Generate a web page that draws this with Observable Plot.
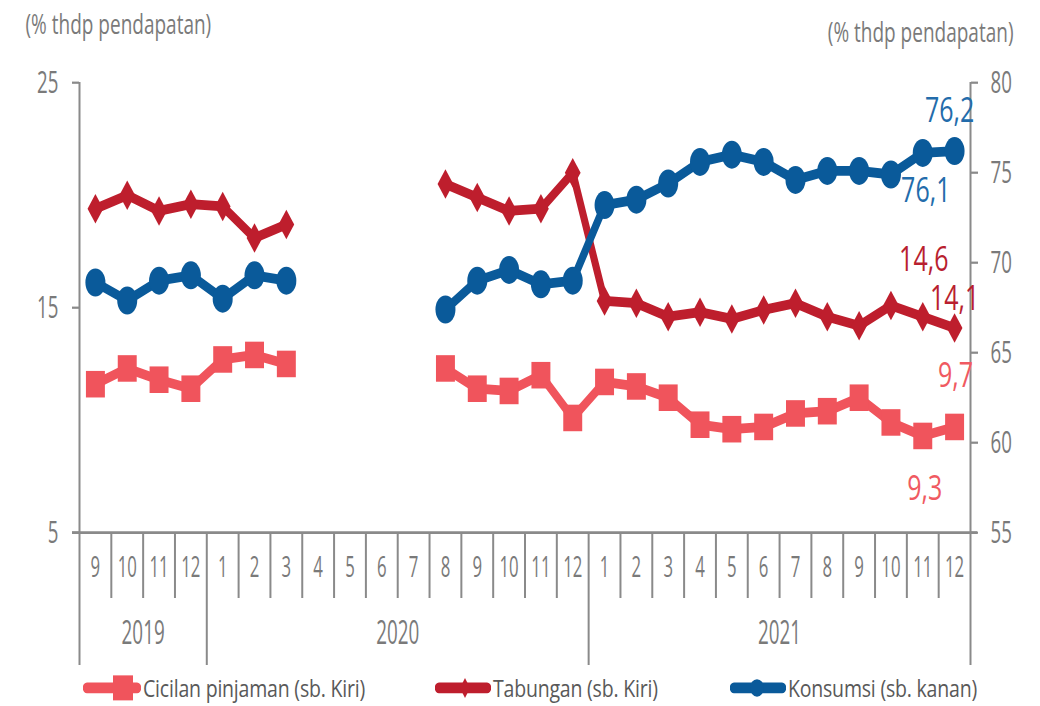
<!DOCTYPE html>
<html>
<head>
<meta charset="utf-8">
<script src="https://cdn.jsdelivr.net/npm/d3@7"></script>
<script src="https://cdn.jsdelivr.net/npm/@observablehq/plot@0.6"></script>
<style>
  body { margin: 0; background: #fff; }
  #wrap { position: relative; width: 1040px; height: 706px; overflow: hidden; background: #fff; font-family: "Open Sans", sans-serif; }
  #chart { position: absolute; left: 0; top: 0; }
  #legend { position: absolute; left: 0; top: 671px; width: 1040px; height: 27px; transform-origin: 0 0; transform: scaleY(1.25); }
  .item { position: absolute; top: 0; height: 27px; width: 300px; }
  .item svg { position: absolute; top: 0; left: 0; }
  .item span { position: absolute; top: 0; white-space: nowrap; font-size: 19.5px; line-height: 27px; letter-spacing: -0.2px; color: #595959; }
</style>
</head>
<body>
<div id="wrap"><div id="chart"></div><div id="legend"></div></div>
<script>
// ---------- data ----------
const months = ["9","10","11","12","1","2","3","4","5","6","7","8","9","10","11","12","1","2","3","4","5","6","7","8","9","10","11","12"];
const yearLabels = ["2019", "2020", "2021"];
const yearFirstIndex = [0, 4, 16];
const yearLastIndex = [3, 15, 27];

const cicilan  = [11.6, 12.3, 11.8, 11.4,  12.7, 12.9, 12.5, null, null, null, null, 12.3, 11.4, 11.3, 12.0, 10.1,  11.7, 11.5, 11.0, 9.8, 9.6, 9.7, 10.3, 10.4, 11.0, 9.9, 9.3, 9.7];
const tabungan = [19.4, 20.0, 19.3, 19.6,  19.5, 18.1, 18.7, null, null, null, null, 20.5, 19.9, 19.3, 19.4, 21.0,  15.3, 15.2, 14.6, 14.8, 14.5, 14.9, 15.2, 14.6, 14.2, 15.1, 14.6, 14.1];
const konsumsi = [68.9, 67.9, 69.0, 69.3,  68.0, 69.3, 69.0, null, null, null, null, 67.4, 69.0, 69.6, 68.8, 69.0,  73.2, 73.5, 74.4, 75.6, 76.0, 75.6, 74.6, 75.1, 75.1, 74.9, 76.1, 76.2];

const seriesNames = ["Cicilan pinjaman (sb. Kiri)", "Tabungan (sb. Kiri)", "Konsumsi (sb. kanan)"];
const leftTicks = [5, 15, 25];
const rightTicks = [55, 60, 65, 70, 75, 80];
const leftDomain = [5, 25];
const rightDomain = [55, 80];
const axisTitle = "(% thdp pendapatan)";
const labelIndex = [26, 27]; // last two points labelled for each series

// ---------- styling / layout ----------
const C_CIC = "#f0545c", C_TAB = "#be1e2d", C_KON = "#0a5a9a";
const L_CIC = "#f05a61", L_TAB = "#b91f2f", L_KON = "#236cab";
const AXIS = "#8a8a8a", TXT = "#7a7a7a";
const K = 1.4;             // vertical stretch of the reference picture
const u = px => px / K;
const W = 1040, SVG_H = 670;
const TOP = 82, BOTTOM = 532, LEFT = 79, RIGHT = 970;

const toLeft = v => v == null ? null :
  leftDomain[0] + (v - rightDomain[0]) * (leftDomain[1] - leftDomain[0]) / (rightDomain[1] - rightDomain[0]);
const fromLeft = v => rightDomain[0] + (v - leftDomain[0]) * (rightDomain[1] - rightDomain[0]) / (leftDomain[1] - leftDomain[0]);
const fmt = v => String(v).replace(".", ",");

const idx = months.map((_, i) => i);
const rows = (arr, f = d => d) => arr.map((v, i) => ({i, v: f(v), raw: v}));
const cicRows = rows(cicilan), tabRows = rows(tabungan), konRows = rows(konsumsi, toLeft);

const yearSeps = [-0.5, ...yearLastIndex.map(i => i + 0.5)];
const monthSeps = idx.slice(0, -1).map(i => i + 0.5).filter(x => !yearSeps.includes(x));
const yearCenters = yearLabels.map((t, k) => ({t, x: (yearFirstIndex[k] + yearLastIndex[k]) / 2}));

// custom diamond (taller than wide)
const diamond = {
  draw(ctx, size) {
    const r = Math.sqrt(size / Math.PI);
    const w = r * 0.75;
    ctx.moveTo(0, -r); ctx.lineTo(w, 0); ctx.lineTo(0, r); ctx.lineTo(-w, 0); ctx.closePath();
  }
};

function labelMarks(rowsArr, color, offsets) {
  return labelIndex.map((i, k) => Plot.text([rowsArr[i]], {
    x: "i", y: "v", text: d => fmt(d.raw), fill: color, fontSize: 25,
    dx: offsets[k][0], dy: u(offsets[k][1])
  }));
}

const svg = Plot.plot({
  width: W,
  height: u(SVG_H),
  marginTop: u(TOP),
  marginBottom: u(SVG_H - BOTTOM),
  marginLeft: LEFT,
  marginRight: W - RIGHT,
  style: {fontFamily: "'Open Sans', sans-serif", background: "#fff"},
  x: {type: "linear", domain: [-0.5, months.length - 0.5], axis: null},
  y: {type: "linear", domain: leftDomain, axis: null, label: null},
  marks: [
    // titles
    Plot.text([axisTitle], {text: d => d, frameAnchor: "top-left", textAnchor: "start", dx: 25 - LEFT, dy: u(14 - TOP), fontSize: 19, fill: TXT}),
    Plot.text([axisTitle], {text: d => d, frameAnchor: "top-right", textAnchor: "end", dx: 1013 - RIGHT, dy: u(22 - TOP), fontSize: 19, fill: TXT}),
    // axes
    Plot.axisY({ticks: leftTicks, anchor: "left", tickSize: 7, tickPadding: 14, fontSize: 22, color: TXT, stroke: AXIS, strokeWidth: 1.6, label: null, tickFormat: d => String(d)}),
    Plot.axisY({ticks: rightTicks.map(toLeft), anchor: "right", tickSize: 7, tickPadding: 13, fontSize: 22, color: TXT, stroke: AXIS, strokeWidth: 1.6, label: null, tickFormat: d => String(Math.round(fromLeft(d)))}),
    Plot.ruleX([-0.5, months.length - 0.5], {y1: leftDomain[0], y2: leftDomain[1], stroke: AXIS, strokeWidth: 2}),
    Plot.ruleY([leftDomain[0]], {x1: -0.5, x2: months.length - 0.5, insetLeft: -7, insetRight: -7, stroke: AXIS, strokeWidth: 2}),
    Plot.ruleX(monthSeps, {y1: leftDomain[0], y2: leftDomain[0], insetBottom: -u(66), stroke: AXIS, strokeWidth: 2}),
    Plot.ruleX(yearSeps, {y1: leftDomain[0], y2: leftDomain[0], insetBottom: -u(133), stroke: AXIS, strokeWidth: 2}),
    Plot.text(idx, {x: d => d, text: d => months[d], frameAnchor: "bottom", dy: u(576 - BOTTOM), fontSize: 21, fill: TXT}),
    Plot.text(yearCenters, {x: "x", text: "t", frameAnchor: "bottom", dy: u(643 - BOTTOM), fontSize: 23, fill: TXT}),
    // series
    Plot.line(cicRows, {x: "i", y: "v", stroke: C_CIC, strokeWidth: 7, strokeLinejoin: "round"}),
    Plot.dot(cicRows, {x: "i", y: "v", symbol: "square", r: 10.7, fill: C_CIC}),
    Plot.line(tabRows, {x: "i", y: "v", stroke: C_TAB, strokeWidth: 7, strokeLinejoin: "round"}),
    Plot.dot(tabRows, {x: "i", y: "v", symbol: diamond, r: 10.5, fill: C_TAB}),
    Plot.line(konRows, {x: "i", y: "v", stroke: C_KON, strokeWidth: 7, strokeLinejoin: "round"}),
    Plot.dot(konRows, {x: "i", y: "v", symbol: "circle", r: 10, fill: C_KON}),
    // end labels
    ...labelMarks(konRows, L_KON, [[3, 38], [-5, -40]]),
    ...labelMarks(tabRows, L_TAB, [[1, -57], [0, -29]]),
    ...labelMarks(cicRows, L_CIC, [[2, 53], [1, -51]])
  ]
});

// stretch vertically like the reference picture
svg.setAttribute("preserveAspectRatio", "none");
svg.setAttribute("height", SVG_H);
svg.style.width = W + "px";
svg.style.height = SVG_H + "px";
svg.style.maxWidth = "none";

// condense some text horizontally
function squish(fs, sx) {
  svg.querySelectorAll(`g[font-size="${fs}"] text`).forEach(t => {
    const tr = t.getAttribute("transform");
    if (tr) t.setAttribute("transform", tr + ` scale(${sx},1)`);
    else {
      const x = +(t.getAttribute("x") || 0);
      t.setAttribute("transform", `translate(${x},0) scale(${sx},1) translate(${-x},0)`);
    }
  });
}
squish(22, 0.85);
squish(21, 0.8);
squish(23, 0.82);

document.getElementById("chart").appendChild(svg);

// ---------- legend ----------
const legendItems = [
  {name: seriesNames[0], color: C_CIC, left: 83, w: 58, mx: 40, shape: "square"},
  {name: seriesNames[1], color: C_TAB, left: 435, w: 56, mx: 30, shape: "diamond"},
  {name: seriesNames[2], color: C_KON, left: 730, w: 56, mx: 27, shape: "circle"}
];
const legend = document.getElementById("legend");
legendItems.forEach(it => {
  const div = document.createElement("div");
  div.className = "item";
  div.style.left = it.left + "px";
  const cy = 13.5;
  let marker;
  if (it.shape === "square") marker = `<rect x="${it.mx - 10}" y="${cy - 10}" width="20" height="20" fill="${it.color}"/>`;
  else if (it.shape === "diamond") marker = `<path d="M${it.mx},${cy - 8} L${it.mx + 5},${cy} L${it.mx},${cy + 8} L${it.mx - 5},${cy}Z" fill="${it.color}"/>`;
  else marker = `<ellipse cx="${it.mx}" cy="${cy}" rx="7" ry="7" fill="${it.color}"/>`;
  div.innerHTML = `<svg width="${it.w}" height="27"><line x1="4" x2="${it.w - 4}" y1="${cy}" y2="${cy}" stroke="${it.color}" stroke-width="8.5" stroke-linecap="round"/>${marker}</svg><span style="left:${it.w + 2}px">${it.name}</span>`;
  legend.appendChild(div);
});
</script>
</body>
</html>
